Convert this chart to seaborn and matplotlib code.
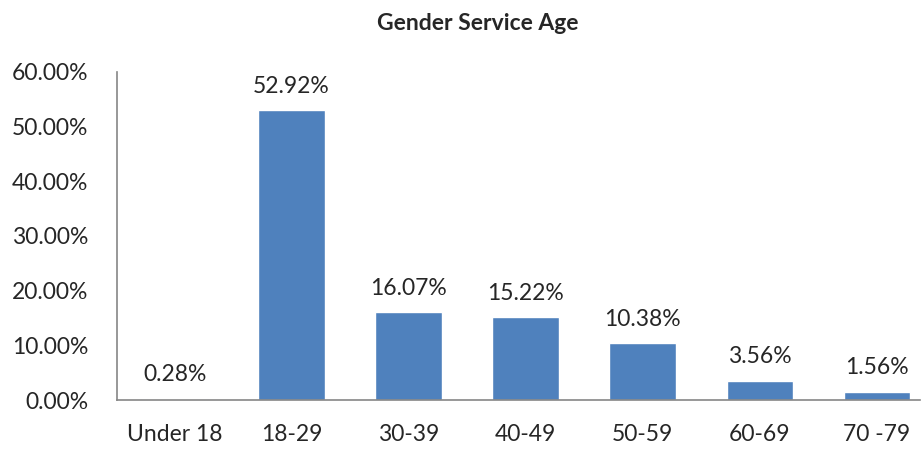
import matplotlib
matplotlib.use("Agg")
import matplotlib.pyplot as plt
import seaborn as sns
import pandas as pd
from matplotlib.ticker import PercentFormatter

sns.set_theme(style="white")
plt.rcParams["font.family"] = ["Lato", "DejaVu Sans"]

# Data
age_groups = ["Under 18", "18-29", "30-39", "40-49", "50-59", "60-69", "70 -79"]
shares = [0.28, 52.92, 16.07, 15.22, 10.38, 3.56, 1.56]

df = pd.DataFrame({"age": age_groups, "share": shares})

fig = plt.figure(figsize=(9.23, 4.5), dpi=100)
ax = fig.add_axes([0.127, 0.111, 0.870, 0.730])

sns.barplot(data=df, x="age", y="share", color="#4F81BD", width=0.57,
            saturation=1, ax=ax)

for i, v in enumerate(shares):
    ax.text(i, v + 2.4, f"{v:.2f}%", ha="center", va="bottom", fontsize=16.5)

ax.set_ylim(0, 60)
ax.set_xlim(-0.49, 6.37)
ax.set_yticks(range(0, 61, 10))
ax.yaxis.set_major_formatter(PercentFormatter(decimals=2))
ax.tick_params(axis="both", length=0, labelsize=16.5)
ax.tick_params(axis="x", pad=17)
ax.tick_params(axis="y", pad=21)
ax.set_xlabel("")
ax.set_ylabel("")

for side in ["top", "right"]:
    ax.spines[side].set_visible(False)
for side in ["left", "bottom"]:
    ax.spines[side].set_color("#868686")
    ax.spines[side].set_linewidth(1.2)

fig.suptitle("Gender Service Age", x=0.518, y=0.97, fontsize=16.5,
             fontweight="bold")

fig.savefig("out.png", dpi=100)
